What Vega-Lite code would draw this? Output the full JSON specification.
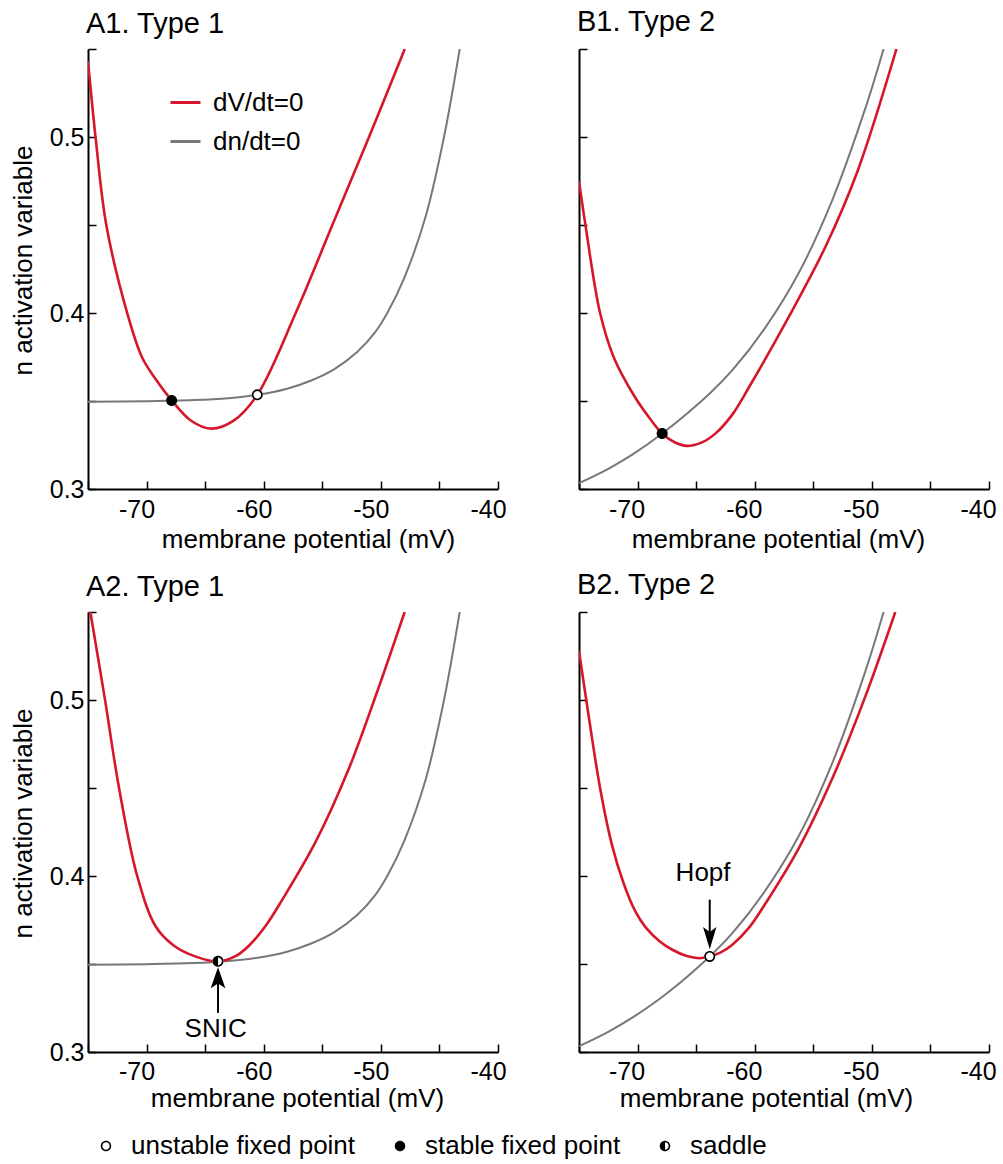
{
  "$schema": "https://vega.github.io/schema/vega-lite/v6.json",
  "background": "white",
  "padding": {"left": 10, "top": 8, "right": 5, "bottom": 5},
  "datasets": {
    "curves": [
      {"p": "A1", "c": "dV/dt=0", "V": -75, "n": 0.5432},
      {"p": "A1", "c": "dV/dt=0", "V": -74.34, "n": 0.4989},
      {"p": "A1", "c": "dV/dt=0", "V": -73.43, "n": 0.4497},
      {"p": "A1", "c": "dV/dt=0", "V": -71.64, "n": 0.3997},
      {"p": "A1", "c": "dV/dt=0", "V": -70.36, "n": 0.3744},
      {"p": "A1", "c": "dV/dt=0", "V": -69.23, "n": 0.3625},
      {"p": "A1", "c": "dV/dt=0", "V": -67.86, "n": 0.3504},
      {"p": "A1", "c": "dV/dt=0", "V": -66.2, "n": 0.3388},
      {"p": "A1", "c": "dV/dt=0", "V": -64.47, "n": 0.3343},
      {"p": "A1", "c": "dV/dt=0", "V": -62.6, "n": 0.3387},
      {"p": "A1", "c": "dV/dt=0", "V": -60.55, "n": 0.3535},
      {"p": "A1", "c": "dV/dt=0", "V": -57.27, "n": 0.4},
      {"p": "A1", "c": "dV/dt=0", "V": -54.14, "n": 0.45},
      {"p": "A1", "c": "dV/dt=0", "V": -51.01, "n": 0.5},
      {"p": "A1", "c": "dV/dt=0", "V": -47.96, "n": 0.55},
      {"p": "A1", "c": "dn/dt=0", "V": -75, "n": 0.3496},
      {"p": "A1", "c": "dn/dt=0", "V": -70, "n": 0.3499},
      {"p": "A1", "c": "dn/dt=0", "V": -66, "n": 0.3505},
      {"p": "A1", "c": "dn/dt=0", "V": -63, "n": 0.3516},
      {"p": "A1", "c": "dn/dt=0", "V": -60.55, "n": 0.3535},
      {"p": "A1", "c": "dn/dt=0", "V": -58, "n": 0.357},
      {"p": "A1", "c": "dn/dt=0", "V": -56, "n": 0.3615},
      {"p": "A1", "c": "dn/dt=0", "V": -54, "n": 0.368},
      {"p": "A1", "c": "dn/dt=0", "V": -52, "n": 0.378},
      {"p": "A1", "c": "dn/dt=0", "V": -50.5, "n": 0.389},
      {"p": "A1", "c": "dn/dt=0", "V": -49.45, "n": 0.4},
      {"p": "A1", "c": "dn/dt=0", "V": -48, "n": 0.42},
      {"p": "A1", "c": "dn/dt=0", "V": -46.17, "n": 0.455},
      {"p": "A1", "c": "dn/dt=0", "V": -44.61, "n": 0.5},
      {"p": "A1", "c": "dn/dt=0", "V": -43.27, "n": 0.55},
      {"p": "B1", "c": "dV/dt=0", "V": -75, "n": 0.475},
      {"p": "B1", "c": "dV/dt=0", "V": -74.45, "n": 0.45},
      {"p": "B1", "c": "dV/dt=0", "V": -73.2, "n": 0.4},
      {"p": "B1", "c": "dV/dt=0", "V": -72.01, "n": 0.3745},
      {"p": "B1", "c": "dV/dt=0", "V": -70.2, "n": 0.352},
      {"p": "B1", "c": "dV/dt=0", "V": -69.0, "n": 0.3405},
      {"p": "B1", "c": "dV/dt=0", "V": -67.9, "n": 0.3315},
      {"p": "B1", "c": "dV/dt=0", "V": -66.8, "n": 0.3264},
      {"p": "B1", "c": "dV/dt=0", "V": -65.8, "n": 0.3245},
      {"p": "B1", "c": "dV/dt=0", "V": -64.5, "n": 0.3265},
      {"p": "B1", "c": "dV/dt=0", "V": -63.34, "n": 0.3316},
      {"p": "B1", "c": "dV/dt=0", "V": -61.9, "n": 0.3424},
      {"p": "B1", "c": "dV/dt=0", "V": -60.49, "n": 0.3578},
      {"p": "B1", "c": "dV/dt=0", "V": -57.2, "n": 0.3965},
      {"p": "B1", "c": "dV/dt=0", "V": -53.9, "n": 0.4385},
      {"p": "B1", "c": "dV/dt=0", "V": -51.2, "n": 0.481},
      {"p": "B1", "c": "dV/dt=0", "V": -47.9, "n": 0.55},
      {"p": "B1", "c": "dn/dt=0", "V": -75, "n": 0.3033},
      {"p": "B1", "c": "dn/dt=0", "V": -72.5, "n": 0.3115},
      {"p": "B1", "c": "dn/dt=0", "V": -70.45, "n": 0.3195},
      {"p": "B1", "c": "dn/dt=0", "V": -67.9, "n": 0.3315},
      {"p": "B1", "c": "dn/dt=0", "V": -63.84, "n": 0.3543},
      {"p": "B1", "c": "dn/dt=0", "V": -61.91, "n": 0.3675},
      {"p": "B1", "c": "dn/dt=0", "V": -59.07, "n": 0.392},
      {"p": "B1", "c": "dn/dt=0", "V": -56.22, "n": 0.423},
      {"p": "B1", "c": "dn/dt=0", "V": -53.37, "n": 0.4643},
      {"p": "B1", "c": "dn/dt=0", "V": -50.53, "n": 0.5168},
      {"p": "B1", "c": "dn/dt=0", "V": -49.0, "n": 0.55},
      {"p": "A2", "c": "dV/dt=0", "V": -75, "n": 0.558},
      {"p": "A2", "c": "dV/dt=0", "V": -74.8, "n": 0.55},
      {"p": "A2", "c": "dV/dt=0", "V": -73.55, "n": 0.5002},
      {"p": "A2", "c": "dV/dt=0", "V": -72.35, "n": 0.45},
      {"p": "A2", "c": "dV/dt=0", "V": -70.8, "n": 0.4},
      {"p": "A2", "c": "dV/dt=0", "V": -69.22, "n": 0.3713},
      {"p": "A2", "c": "dV/dt=0", "V": -67.66, "n": 0.3604},
      {"p": "A2", "c": "dV/dt=0", "V": -65.8, "n": 0.3542},
      {"p": "A2", "c": "dV/dt=0", "V": -63.9, "n": 0.3515},
      {"p": "A2", "c": "dV/dt=0", "V": -62.4, "n": 0.3545},
      {"p": "A2", "c": "dV/dt=0", "V": -61.26, "n": 0.3604},
      {"p": "A2", "c": "dV/dt=0", "V": -59.8, "n": 0.372},
      {"p": "A2", "c": "dV/dt=0", "V": -58.41, "n": 0.3866},
      {"p": "A2", "c": "dV/dt=0", "V": -55.56, "n": 0.4195},
      {"p": "A2", "c": "dV/dt=0", "V": -52.72, "n": 0.4612},
      {"p": "A2", "c": "dV/dt=0", "V": -50.3, "n": 0.505},
      {"p": "A2", "c": "dV/dt=0", "V": -47.97, "n": 0.55},
      {"p": "A2", "c": "dn/dt=0", "V": -75, "n": 0.3496},
      {"p": "A2", "c": "dn/dt=0", "V": -70, "n": 0.3499},
      {"p": "A2", "c": "dn/dt=0", "V": -66, "n": 0.3505},
      {"p": "A2", "c": "dn/dt=0", "V": -63, "n": 0.3517},
      {"p": "A2", "c": "dn/dt=0", "V": -60.55, "n": 0.3535},
      {"p": "A2", "c": "dn/dt=0", "V": -58, "n": 0.357},
      {"p": "A2", "c": "dn/dt=0", "V": -56, "n": 0.3615},
      {"p": "A2", "c": "dn/dt=0", "V": -54, "n": 0.368},
      {"p": "A2", "c": "dn/dt=0", "V": -52, "n": 0.378},
      {"p": "A2", "c": "dn/dt=0", "V": -50.5, "n": 0.389},
      {"p": "A2", "c": "dn/dt=0", "V": -49.45, "n": 0.4},
      {"p": "A2", "c": "dn/dt=0", "V": -48, "n": 0.42},
      {"p": "A2", "c": "dn/dt=0", "V": -46.17, "n": 0.455},
      {"p": "A2", "c": "dn/dt=0", "V": -44.61, "n": 0.5},
      {"p": "A2", "c": "dn/dt=0", "V": -43.27, "n": 0.55},
      {"p": "B2", "c": "dV/dt=0", "V": -75, "n": 0.528},
      {"p": "B2", "c": "dV/dt=0", "V": -74.38, "n": 0.5},
      {"p": "B2", "c": "dV/dt=0", "V": -73.2, "n": 0.45},
      {"p": "B2", "c": "dV/dt=0", "V": -72.2, "n": 0.418},
      {"p": "B2", "c": "dV/dt=0", "V": -71.2, "n": 0.396},
      {"p": "B2", "c": "dV/dt=0", "V": -70.2, "n": 0.38},
      {"p": "B2", "c": "dV/dt=0", "V": -69.31, "n": 0.3708},
      {"p": "B2", "c": "dV/dt=0", "V": -68.1, "n": 0.3628},
      {"p": "B2", "c": "dV/dt=0", "V": -67.03, "n": 0.3581},
      {"p": "B2", "c": "dV/dt=0", "V": -65.8, "n": 0.3545},
      {"p": "B2", "c": "dV/dt=0", "V": -64.76, "n": 0.3533},
      {"p": "B2", "c": "dV/dt=0", "V": -63.84, "n": 0.3543},
      {"p": "B2", "c": "dV/dt=0", "V": -62.9, "n": 0.3566},
      {"p": "B2", "c": "dV/dt=0", "V": -61.91, "n": 0.361},
      {"p": "B2", "c": "dV/dt=0", "V": -60.5, "n": 0.3705},
      {"p": "B2", "c": "dV/dt=0", "V": -59.07, "n": 0.3845},
      {"p": "B2", "c": "dV/dt=0", "V": -56.22, "n": 0.416},
      {"p": "B2", "c": "dV/dt=0", "V": -53.37, "n": 0.4555},
      {"p": "B2", "c": "dV/dt=0", "V": -50.53, "n": 0.5025},
      {"p": "B2", "c": "dV/dt=0", "V": -48.0, "n": 0.55},
      {"p": "B2", "c": "dn/dt=0", "V": -75, "n": 0.3033},
      {"p": "B2", "c": "dn/dt=0", "V": -72.5, "n": 0.3115},
      {"p": "B2", "c": "dn/dt=0", "V": -70.45, "n": 0.3195},
      {"p": "B2", "c": "dn/dt=0", "V": -67.6, "n": 0.3328},
      {"p": "B2", "c": "dn/dt=0", "V": -63.84, "n": 0.3543},
      {"p": "B2", "c": "dn/dt=0", "V": -61.91, "n": 0.3675},
      {"p": "B2", "c": "dn/dt=0", "V": -59.07, "n": 0.392},
      {"p": "B2", "c": "dn/dt=0", "V": -56.22, "n": 0.423},
      {"p": "B2", "c": "dn/dt=0", "V": -53.37, "n": 0.4643},
      {"p": "B2", "c": "dn/dt=0", "V": -50.53, "n": 0.5168},
      {"p": "B2", "c": "dn/dt=0", "V": -49.0, "n": 0.55}
    ],
    "points": [
      {"p": "A1", "kind": "stable fixed point", "V": -67.86, "n": 0.3503},
      {"p": "A1", "kind": "unstable fixed point", "V": -60.55, "n": 0.3535},
      {"p": "B1", "kind": "stable fixed point", "V": -67.9, "n": 0.3315},
      {"p": "A2", "kind": "saddle", "V": -63.9, "n": 0.3515},
      {"p": "B2", "kind": "unstable fixed point", "V": -63.84, "n": 0.3543}
    ],
    "arrows": [
      {"p": "A2", "V": -63.9, "n1": 0.3222, "n2": 0.344, "nh": 0.3422, "label": "SNIC", "Vt": -64.1, "nt": 0.3088},
      {"p": "B2", "V": -63.84, "n1": 0.3866, "n2": 0.3665, "nh": 0.3647, "label": "Hopf", "Vt": -64.41, "nt": 0.3974}
    ]
  },
  "config": {
    "view": {"stroke": null},
    "font": "Liberation Sans",
    "axis": {
      "domainColor": "black", "domainWidth": 2, "tickColor": "black", "tickWidth": 1.5, "tickSize": -8,
      "labelFont": "Liberation Sans", "labelFontSize": 25, "labelColor": "black",
      "titleFont": "Liberation Sans", "titleFontSize": 26, "titleFontWeight": "normal", "titleColor": "black",
      "grid": false, "labelFlush": false, "labelOverlap": false
    },
    "title": {"font": "Liberation Sans", "fontSize": 29, "fontWeight": "normal", "anchor": "start", "frame": "group", "baseline": "alphabetic", "dx": -2, "color": "black"},
    "legend": {"labelFont": "Liberation Sans", "labelFontSize": 26, "labelColor": "black", "padding": 0, "labelLimit": 400}
  },
  "columns": 2,
  "spacing": {"row": 123, "column": 81},
  "bounds": "flush",
  "resolve": {
    "scale": {"color": "independent", "shape": "independent", "x": "independent", "y": "independent"},
    "legend": {"color": "independent", "shape": "independent"},
    "axis": {"x": "independent", "y": "independent"}
  },
  "concat": [
    {
      "width": 410, "height": 440,
      "title": {"text": "A1. Type 1", "offset": -2},
      "layer": [
        {
          "data": {"name": "curves"},
          "transform": [{"filter": "datum.p == 'A1' && datum.c == 'dn/dt=0'"}],
          "mark": {"type": "line", "interpolate": "catmull-rom", "strokeWidth": 2, "clip": true},
          "encoding": {
            "x": {"field": "V", "type": "quantitative", "scale": {"domain": [-75, -40], "nice": false, "zero": false},
              "axis": {"values": [-75, -70, -65, -60, -55, -50, -45, -40], "labelExpr": "datum.value % 10 == 0 ? '-' + abs(datum.value) : ''", "labelOffset": -10, "labelBaseline": "alphabetic", "labelPadding": 36, "title": "membrane potential (mV)", "titleX": 220, "titleY": 58, "titleBaseline": "alphabetic"}},
            "y": {"field": "n", "type": "quantitative", "scale": {"domain": [0.3, 0.55], "nice": false, "zero": false},
              "axis": {"values": [0.3, 0.35, 0.4, 0.45, 0.5, 0.55], "labelExpr": "round(datum.value*100) % 10 == 0 ? format(datum.value, '.1f') : ''", "labelPadding": 12, "title": "n activation variable", "titleX": -57, "titleY": 211, "titleBaseline": "alphabetic"}},
            "color": {"field": "c", "type": "nominal", "scale": {"domain": ["dV/dt=0", "dn/dt=0"], "range": ["#d6172b", "#787878"]},
              "legend": {"orient": "none", "legendX": 81, "legendY": 37, "title": null, "symbolType": "stroke", "symbolSize": 900, "symbolStrokeWidth": 3, "labelOffset": 11, "rowPadding": 9}}
          }
        },
        {
          "data": {"name": "curves"},
          "transform": [{"filter": "datum.p == 'A1' && datum.c == 'dV/dt=0'"}],
          "mark": {"type": "line", "interpolate": "catmull-rom", "strokeWidth": 2.6, "clip": true},
          "encoding": {
            "x": {"field": "V", "type": "quantitative"},
            "y": {"field": "n", "type": "quantitative"},
            "color": {"field": "c", "type": "nominal"}
          }
        },
        {
          "data": {"name": "points"},
          "transform": [{"filter": "datum.p == 'A1'"}],
          "mark": {"type": "point", "filled": true, "fill": "white", "opacity": 1, "strokeWidth": 0, "size": 121, "shape": "M1,0A1,1,0,1,1,-1,0A1,1,0,1,1,1,0Z"},
          "encoding": {"x": {"field": "V", "type": "quantitative"}, "y": {"field": "n", "type": "quantitative"}}
        },
        {
          "data": {"name": "points"},
          "transform": [{"filter": "datum.p == 'A1'"}],
          "mark": {"type": "point", "filled": true, "color": "black", "opacity": 1, "strokeWidth": 0, "size": 121},
          "encoding": {
            "x": {"field": "V", "type": "quantitative"}, "y": {"field": "n", "type": "quantitative"},
            "shape": {"field": "kind", "type": "nominal", "scale": {"domain": ["unstable fixed point", "stable fixed point", "saddle"], "range": ["M1,0A1,1,0,1,1,-1,0A1,1,0,1,1,1,0Z M0.7,0A0.7,0.7,0,1,0,-0.7,0A0.7,0.7,0,1,0,0.7,0Z", "M1,0A1,1,0,1,1,-1,0A1,1,0,1,1,1,0Z", "M0,-1A1,1,0,0,0,0,1Z M0,-1A1,1,0,0,1,0,1L0,0.7A0.7,0.7,0,0,0,0,-0.7Z"]}, "legend": null}
          }
        }
      ]
    },
    {
      "width": 410, "height": 440,
      "title": {"text": "B1. Type 2", "offset": 11},
      "layer": [
        {
          "data": {"name": "curves"},
          "transform": [{"filter": "datum.p == 'B1' && datum.c == 'dn/dt=0'"}],
          "mark": {"type": "line", "interpolate": "catmull-rom", "strokeWidth": 2, "clip": true},
          "encoding": {
            "x": {"field": "V", "type": "quantitative", "scale": {"domain": [-75, -40], "nice": false, "zero": false},
              "axis": {"values": [-75, -70, -65, -60, -55, -50, -45, -40], "labelExpr": "datum.value % 10 == 0 ? '-' + abs(datum.value) : ''", "labelOffset": -11, "labelBaseline": "alphabetic", "labelPadding": 36, "title": "membrane potential (mV)", "titleX": 199, "titleY": 58, "titleBaseline": "alphabetic"}},
            "y": {"field": "n", "type": "quantitative", "scale": {"domain": [0.3, 0.55], "nice": false, "zero": false},
              "axis": {"values": [0.3, 0.35, 0.4, 0.45, 0.5, 0.55], "labels": false, "title": null}},
            "color": {"field": "c", "type": "nominal", "scale": {"domain": ["dV/dt=0", "dn/dt=0"], "range": ["#d6172b", "#787878"]}, "legend": null}
          }
        },
        {
          "data": {"name": "curves"},
          "transform": [{"filter": "datum.p == 'B1' && datum.c == 'dV/dt=0'"}],
          "mark": {"type": "line", "interpolate": "catmull-rom", "strokeWidth": 2.6, "clip": true},
          "encoding": {
            "x": {"field": "V", "type": "quantitative"},
            "y": {"field": "n", "type": "quantitative"},
            "color": {"field": "c", "type": "nominal"}
          }
        },
        {
          "data": {"name": "points"},
          "transform": [{"filter": "datum.p == 'B1'"}],
          "mark": {"type": "point", "filled": true, "color": "black", "opacity": 1, "strokeWidth": 0, "size": 121},
          "encoding": {
            "x": {"field": "V", "type": "quantitative"}, "y": {"field": "n", "type": "quantitative"},
            "shape": {"field": "kind", "type": "nominal", "scale": {"domain": ["unstable fixed point", "stable fixed point", "saddle"], "range": ["M1,0A1,1,0,1,1,-1,0A1,1,0,1,1,1,0Z M0.7,0A0.7,0.7,0,1,0,-0.7,0A0.7,0.7,0,1,0,0.7,0Z", "M1,0A1,1,0,1,1,-1,0A1,1,0,1,1,1,0Z", "M0,-1A1,1,0,0,0,0,1Z M0,-1A1,1,0,0,1,0,1L0,0.7A0.7,0.7,0,0,0,0,-0.7Z"]}, "legend": null}
          }
        }
      ]
    },
    {
      "width": 410, "height": 440,
      "title": {"text": "A2. Type 1", "offset": -2},
      "layer": [
        {
          "data": {"name": "curves"},
          "transform": [{"filter": "datum.p == 'A2' && datum.c == 'dn/dt=0'"}],
          "mark": {"type": "line", "interpolate": "catmull-rom", "strokeWidth": 2, "clip": true},
          "encoding": {
            "x": {"field": "V", "type": "quantitative", "scale": {"domain": [-75, -40], "nice": false, "zero": false},
              "axis": {"values": [-75, -70, -65, -60, -55, -50, -45, -40], "labelExpr": "datum.value % 10 == 0 ? '-' + abs(datum.value) : ''", "labelOffset": -10, "labelBaseline": "alphabetic", "labelPadding": 35, "title": "membrane potential (mV)", "titleX": 209, "titleY": 54, "titleBaseline": "alphabetic"}},
            "y": {"field": "n", "type": "quantitative", "scale": {"domain": [0.3, 0.55], "nice": false, "zero": false},
              "axis": {"values": [0.3, 0.35, 0.4, 0.45, 0.5, 0.55], "labelExpr": "round(datum.value*100) % 10 == 0 ? format(datum.value, '.1f') : ''", "labelPadding": 12, "title": "n activation variable", "titleX": -57, "titleY": 211, "titleBaseline": "alphabetic"}},
            "color": {"field": "c", "type": "nominal", "scale": {"domain": ["dV/dt=0", "dn/dt=0"], "range": ["#d6172b", "#787878"]}, "legend": null}
          }
        },
        {
          "data": {"name": "curves"},
          "transform": [{"filter": "datum.p == 'A2' && datum.c == 'dV/dt=0'"}],
          "mark": {"type": "line", "interpolate": "catmull-rom", "strokeWidth": 2.6, "clip": true},
          "encoding": {
            "x": {"field": "V", "type": "quantitative"},
            "y": {"field": "n", "type": "quantitative"},
            "color": {"field": "c", "type": "nominal"}
          }
        },
        {
          "data": {"name": "arrows"},
          "transform": [{"filter": "datum.p == 'A2'"}],
          "mark": {"type": "rule", "color": "black", "strokeWidth": 2},
          "encoding": {"x": {"field": "V", "type": "quantitative"}, "y": {"field": "n1", "type": "quantitative"}, "y2": {"field": "n2"}}
        },
        {
          "data": {"name": "arrows"},
          "transform": [{"filter": "datum.p == 'A2'"}],
          "mark": {"type": "point", "filled": true, "color": "black", "opacity": 1, "strokeWidth": 0, "size": 441, "shape": "M0,-1L0.7,1L0,0.55L-0.7,1Z"},
          "encoding": {"x": {"field": "V", "type": "quantitative"}, "y": {"field": "nh", "type": "quantitative"}}
        },
        {
          "data": {"name": "arrows"},
          "transform": [{"filter": "datum.p == 'A2'"}],
          "mark": {"type": "text", "fontSize": 26, "font": "Liberation Sans", "align": "center", "baseline": "alphabetic", "color": "black"},
          "encoding": {"x": {"field": "Vt", "type": "quantitative"}, "y": {"field": "nt", "type": "quantitative"}, "text": {"field": "label"}}
        },
        {
          "data": {"name": "points"},
          "transform": [{"filter": "datum.p == 'A2'"}],
          "mark": {"type": "point", "filled": true, "fill": "white", "opacity": 1, "strokeWidth": 0, "size": 121, "shape": "M1,0A1,1,0,1,1,-1,0A1,1,0,1,1,1,0Z"},
          "encoding": {"x": {"field": "V", "type": "quantitative"}, "y": {"field": "n", "type": "quantitative"}}
        },
        {
          "data": {"name": "points"},
          "transform": [{"filter": "datum.p == 'A2'"}],
          "mark": {"type": "point", "filled": true, "color": "black", "opacity": 1, "strokeWidth": 0, "size": 121},
          "encoding": {
            "x": {"field": "V", "type": "quantitative"}, "y": {"field": "n", "type": "quantitative"},
            "shape": {"field": "kind", "type": "nominal", "scale": {"domain": ["unstable fixed point", "stable fixed point", "saddle"], "range": ["M1,0A1,1,0,1,1,-1,0A1,1,0,1,1,1,0Z M0.7,0A0.7,0.7,0,1,0,-0.7,0A0.7,0.7,0,1,0,0.7,0Z", "M1,0A1,1,0,1,1,-1,0A1,1,0,1,1,1,0Z", "M0,-1A1,1,0,0,0,0,1Z M0,-1A1,1,0,0,1,0,1L0,0.7A0.7,0.7,0,0,0,0,-0.7Z"]},
              "legend": {"orient": "none", "legendX": 5, "legendY": 521, "direction": "horizontal", "title": null, "symbolSize": 110, "symbolFillColor": "black", "symbolStrokeWidth": 0, "symbolOpacity": 1, "labelOffset": 12, "columnPadding": 31}}
          }
        }
      ]
    },
    {
      "width": 410, "height": 440,
      "title": {"text": "B2. Type 2", "offset": 11},
      "layer": [
        {
          "data": {"name": "curves"},
          "transform": [{"filter": "datum.p == 'B2' && datum.c == 'dn/dt=0'"}],
          "mark": {"type": "line", "interpolate": "catmull-rom", "strokeWidth": 2, "clip": true},
          "encoding": {
            "x": {"field": "V", "type": "quantitative", "scale": {"domain": [-75, -40], "nice": false, "zero": false},
              "axis": {"values": [-75, -70, -65, -60, -55, -50, -45, -40], "labelExpr": "datum.value % 10 == 0 ? '-' + abs(datum.value) : ''", "labelOffset": -11, "labelBaseline": "alphabetic", "labelPadding": 35, "title": "membrane potential (mV)", "titleX": 187, "titleY": 54, "titleBaseline": "alphabetic"}},
            "y": {"field": "n", "type": "quantitative", "scale": {"domain": [0.3, 0.55], "nice": false, "zero": false},
              "axis": {"values": [0.3, 0.35, 0.4, 0.45, 0.5, 0.55], "labels": false, "title": null}},
            "color": {"field": "c", "type": "nominal", "scale": {"domain": ["dV/dt=0", "dn/dt=0"], "range": ["#d6172b", "#787878"]}, "legend": null}
          }
        },
        {
          "data": {"name": "curves"},
          "transform": [{"filter": "datum.p == 'B2' && datum.c == 'dV/dt=0'"}],
          "mark": {"type": "line", "interpolate": "catmull-rom", "strokeWidth": 2.6, "clip": true},
          "encoding": {
            "x": {"field": "V", "type": "quantitative"},
            "y": {"field": "n", "type": "quantitative"},
            "color": {"field": "c", "type": "nominal"}
          }
        },
        {
          "data": {"name": "arrows"},
          "transform": [{"filter": "datum.p == 'B2'"}],
          "mark": {"type": "rule", "color": "black", "strokeWidth": 2},
          "encoding": {"x": {"field": "V", "type": "quantitative"}, "y": {"field": "n1", "type": "quantitative"}, "y2": {"field": "n2"}}
        },
        {
          "data": {"name": "arrows"},
          "transform": [{"filter": "datum.p == 'B2'"}],
          "mark": {"type": "point", "filled": true, "color": "black", "opacity": 1, "strokeWidth": 0, "size": 500, "shape": "M0,1L0.6,-1L0,-0.55L-0.6,-1Z"},
          "encoding": {"x": {"field": "V", "type": "quantitative"}, "y": {"field": "nh", "type": "quantitative"}}
        },
        {
          "data": {"name": "arrows"},
          "transform": [{"filter": "datum.p == 'B2'"}],
          "mark": {"type": "text", "fontSize": 26, "font": "Liberation Sans", "align": "center", "baseline": "alphabetic", "color": "black"},
          "encoding": {"x": {"field": "Vt", "type": "quantitative"}, "y": {"field": "nt", "type": "quantitative"}, "text": {"field": "label"}}
        },
        {
          "data": {"name": "points"},
          "transform": [{"filter": "datum.p == 'B2'"}],
          "mark": {"type": "point", "filled": true, "fill": "white", "opacity": 1, "strokeWidth": 0, "size": 121, "shape": "M1,0A1,1,0,1,1,-1,0A1,1,0,1,1,1,0Z"},
          "encoding": {"x": {"field": "V", "type": "quantitative"}, "y": {"field": "n", "type": "quantitative"}}
        },
        {
          "data": {"name": "points"},
          "transform": [{"filter": "datum.p == 'B2'"}],
          "mark": {"type": "point", "filled": true, "color": "black", "opacity": 1, "strokeWidth": 0, "size": 121},
          "encoding": {
            "x": {"field": "V", "type": "quantitative"}, "y": {"field": "n", "type": "quantitative"},
            "shape": {"field": "kind", "type": "nominal", "scale": {"domain": ["unstable fixed point", "stable fixed point", "saddle"], "range": ["M1,0A1,1,0,1,1,-1,0A1,1,0,1,1,1,0Z M0.7,0A0.7,0.7,0,1,0,-0.7,0A0.7,0.7,0,1,0,0.7,0Z", "M1,0A1,1,0,1,1,-1,0A1,1,0,1,1,1,0Z", "M0,-1A1,1,0,0,0,0,1Z M0,-1A1,1,0,0,1,0,1L0,0.7A0.7,0.7,0,0,0,0,-0.7Z"]}, "legend": null}
          }
        }
      ]
    }
  ]
}
